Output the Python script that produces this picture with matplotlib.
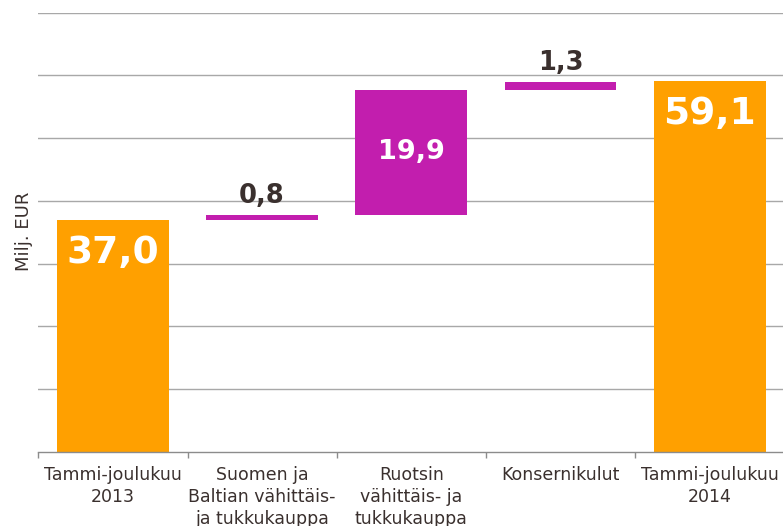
import matplotlib
matplotlib.use("Agg")
import matplotlib.pyplot as plt
import numpy as np

categories = ['Tammi-joulukuu\n2013', 'Suomen ja\nBaltian vähittäis-\nja tukkukauppa',
              'Ruotsin\nvähittäis- ja\ntukkukauppa', 'Konsernikulut', 'Tammi-joulukuu\n2014']
values = [37.0, 0.8, 19.9, 1.3, 59.1]
kinds = ['total', 'delta', 'delta', 'delta', 'total']
y_label = 'Milj. EUR'

ORANGE = '#FFA000'
MAGENTA = '#C21EAE'
DARK = '#3a302e'

plt.rcParams['font.family'] = ['DejaVu Sans']

fig = plt.figure(figsize=(7.83, 5.26), dpi=100)
ax = fig.add_axes([38.3 / 783, (526 - 451.7) / 526, 746 / 783, 439 / 526])

bottoms = []
running = 0.0
for v, k in zip(values, kinds):
    if k == 'total':
        bottoms.append(0.0)
        running = v
    else:
        bottoms.append(running)
        running += v

x = np.arange(len(categories))
colors = [ORANGE if k == 'total' else MAGENTA for k in kinds]
bars = ax.bar(x, values, bottom=bottoms, width=0.75, color=colors, zorder=3)

def fmt(v):
    return f"{v:.1f}".replace('.', ',')

for i, (v, b, k) in enumerate(zip(values, bottoms, kinds)):
    if k == 'total':
        ax.annotate(fmt(v), (x[i], b + v), xytext=(0, -24), textcoords='offset points',
                    ha='center', va='center', color='white', fontsize=27,
                    fontweight='bold', zorder=4)
    elif v > 5:
        ax.text(x[i], b + v / 2, fmt(v), ha='center', va='center', color='white',
                fontsize=19.5, fontweight='bold', zorder=4)
    else:
        ax.annotate(fmt(v), (x[i], b + v), xytext=(0, 4), textcoords='offset points',
                    ha='center', va='bottom', color=DARK, fontsize=18.5,
                    fontweight='bold', zorder=4)

ax.set_xlim(-0.5, len(categories) - 0.5)
ax.set_ylim(0, 70)
ax.set_yticks(np.arange(10, 71, 10))
ax.yaxis.grid(True, color='#a8a8a8', linewidth=1.0, zorder=0)
ax.tick_params(axis='y', length=0, labelleft=False)

ax.set_xticks(x)
ax.set_xticklabels(categories, fontsize=12.5, color=DARK, linespacing=1.27)
ax.set_xticks(np.arange(-0.5, len(categories), 1.0), minor=True)
ax.tick_params(axis='x', which='major', length=0, pad=10.5)
ax.tick_params(axis='x', which='minor', length=4, width=1, color='#8c8c8c', direction='out')

for s in ['top', 'right', 'left']:
    ax.spines[s].set_visible(False)
ax.spines['bottom'].set_color('#8c8c8c')
ax.spines['bottom'].set_linewidth(1.0)
ax.spines['bottom'].set_zorder(5)

fig.text(24 / 783, 1 - 231 / 526, y_label, rotation=90, ha='center', va='center',
         fontsize=13, color=DARK)

fig.savefig('out.png', dpi=100)
